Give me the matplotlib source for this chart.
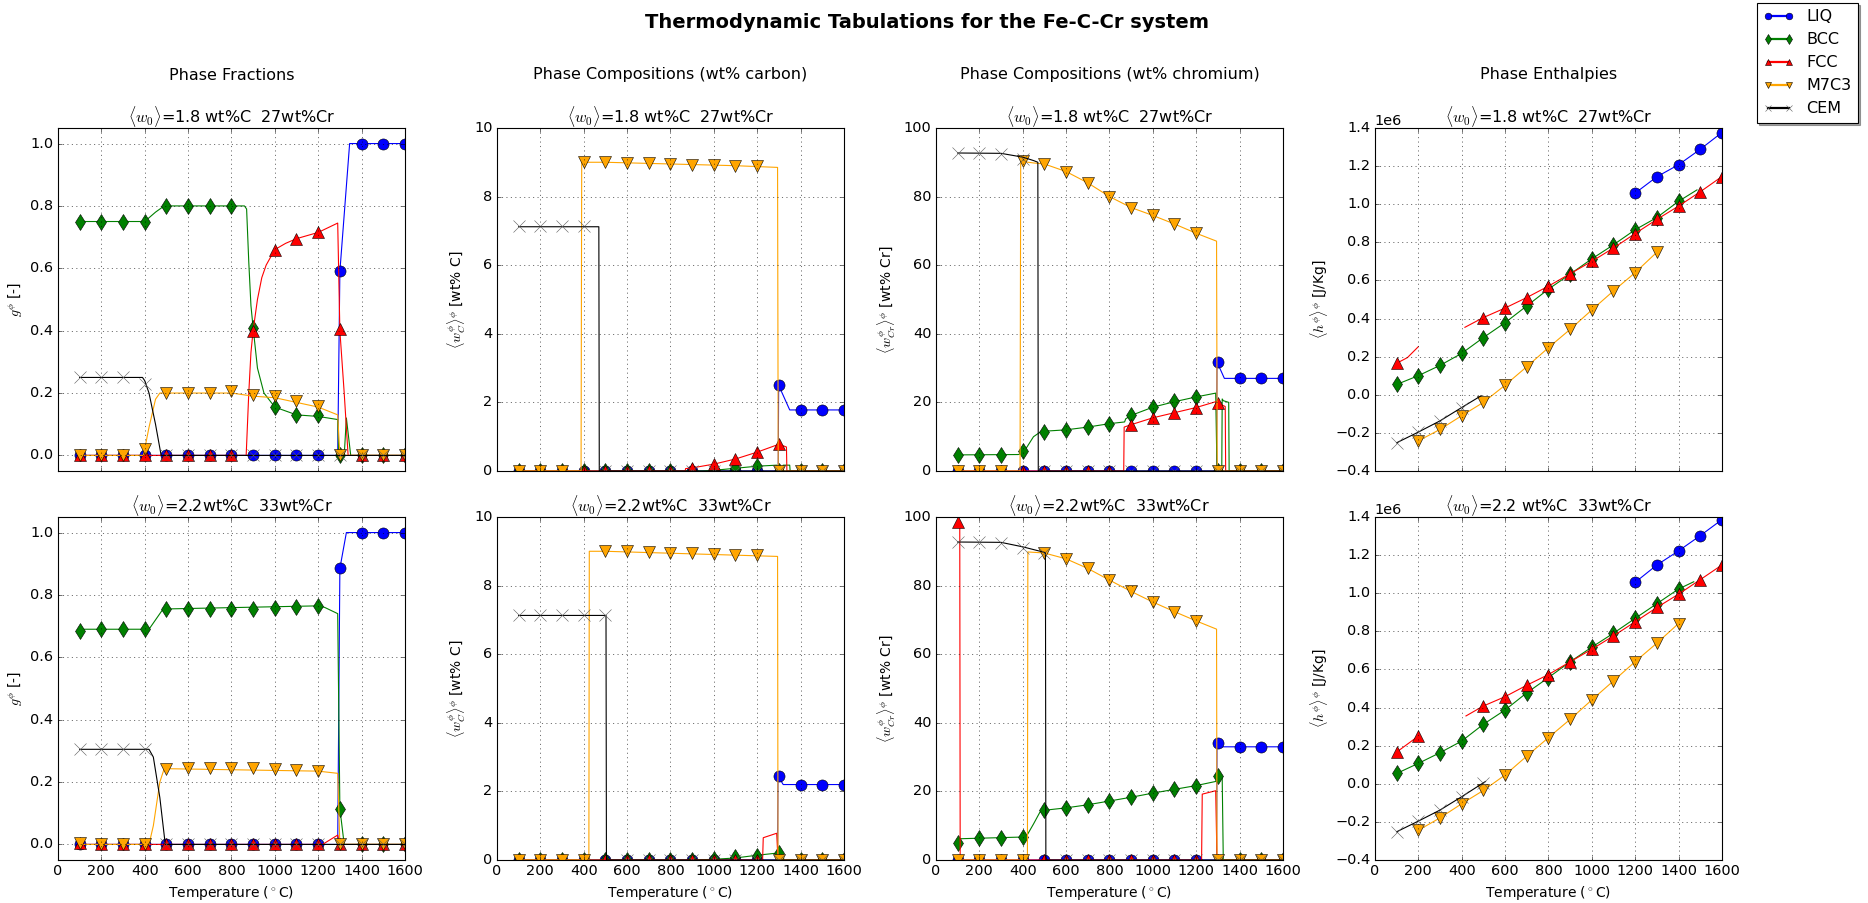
import matplotlib
matplotlib.use('Agg')
import matplotlib.pyplot as plt
import numpy as np
from matplotlib.lines import Line2D

N = np.nan

# temperatures where the markers sit
T_marks = [100, 200, 300, 400, 500, 600, 700, 800, 900, 1000, 1100, 1200, 1300, 1400, 1500, 1600]

phases = ['LIQ', 'BCC', 'FCC', 'M7C3', 'CEM']
colors = {'LIQ': 'b', 'BCC': 'g', 'FCC': 'r', 'M7C3': 'orange', 'CEM': 'k'}
symbols = {'LIQ': 'o', 'BCC': 'd', 'FCC': '^', 'M7C3': 'v', 'CEM': 'x'}

# ---------------- Phase fractions, 1.8 wt%C 27 wt%Cr ----------------
fracA_marks = {
    'LIQ': [0, 0, 0, 0, 0, 0, 0, 0, 0, 0, 0, 0, 0.59, 1.0, 1.0, 1.0],
    'BCC': [0.75, 0.75, 0.75, 0.75, 0.80, 0.80, 0.80, 0.80, 0.41, 0.155, 0.13, 0.13, 0, 0, 0, 0],
    'FCC': [0, 0, 0, 0, 0, 0, 0, 0, 0.40, 0.66, 0.695, 0.715, 0.405, 0, 0, 0],
    'M7C3': [0, 0, 0, 0.02, 0.20, 0.20, 0.20, 0.205, 0.195, 0.19, 0.175, 0.16, 0, 0, 0, 0],
    'CEM': [0.25, 0.25, 0.25, 0.23, 0, 0, 0, 0, 0, 0, 0, 0, 0, 0, 0, 0],
}
fracA_lines = {
    'LIQ': ([100, 1290, 1300, 1345, 1600], [0, 0, 0.59, 1.0, 1.0]),
    'BCC': ([100, 400, 450, 490, 860, 870, 880, 890, 900, 920, 950, 1000, 1100, 1200, 1290, 1295, 1320, 1330, 1350, 1600],
            [0.75, 0.75, 0.78, 0.80, 0.80, 0.79, 0.62, 0.48, 0.41, 0.28, 0.20, 0.155, 0.13, 0.125, 0.115, 0, 0, 0.12, 0, 0]),
    'FCC': ([100, 868, 880, 890, 900, 920, 940, 960, 1000, 1050, 1100, 1200, 1290, 1300, 1320, 1338, 1600],
            [0, 0, 0.2, 0.33, 0.40, 0.50, 0.57, 0.61, 0.66, 0.68, 0.695, 0.715, 0.745, 0.40, 0.2, 0, 0]),
    'M7C3': ([100, 395, 400, 420, 450, 470, 800, 900, 1000, 1100, 1200, 1290, 1300, 1600],
             [0, 0, 0.02, 0.09, 0.18, 0.20, 0.20, 0.19, 0.185, 0.17, 0.155, 0.13, 0, 0]),
    'CEM': ([100, 390, 400, 420, 450, 476, 1600], [0.25, 0.25, 0.24, 0.20, 0.10, 0, 0]),
}

# ---------------- Phase fractions, 2.2 wt%C 33 wt%Cr ----------------
fracB_marks = {
    'LIQ': [0, 0, 0, 0, 0, 0, 0, 0, 0, 0, 0, 0, 0.885, 1.0, 1.0, 1.0],
    'BCC': [0.683, 0.69, 0.69, 0.69, 0.755, 0.755, 0.755, 0.755, 0.755, 0.757, 0.76, 0.765, 0.115, 0, 0, 0],
    'FCC': [0.005, 0, 0, 0, 0, 0, 0, 0, 0, 0, 0, 0, 0, 0, 0, 0],
    'M7C3': [0.005, 0, 0, 0, 0.243, 0.245, 0.246, 0.246, 0.245, 0.243, 0.24, 0.235, 0, 0, 0, 0],
    'CEM': [0.305, 0.305, 0.305, 0.305, 0, 0, 0, 0, 0, 0, 0, 0, 0, 0, 0, 0],
}
fracB_lines = {
    'LIQ': ([100, 1290, 1300, 1330, 1600], [0, 0, 0.885, 1.0, 1.0]),
    'BCC': ([100, 420, 450, 480, 495, 1200, 1230, 1290, 1300, 1320, 1600],
            [0.69, 0.69, 0.72, 0.75, 0.755, 0.765, 0.76, 0.74, 0.115, 0, 0]),
    'FCC': ([100, 1220, 1290, 1300, 1600], [0, 0, 0.03, 0, 0]),
    'M7C3': ([100, 420, 440, 470, 490, 1200, 1290, 1300, 1600], [0, 0, 0.06, 0.20, 0.243, 0.235, 0.228, 0, 0]),
    'CEM': ([100, 420, 440, 470, 495, 1600], [0.305, 0.305, 0.28, 0.15, 0, 0]),
}

# ---------------- Carbon content, alloy 1 ----------------
carbA_marks = {
    'LIQ': [0, 0, 0, 0, 0, 0, 0, 0, 0, 0, 0, 0, 2.5, 1.78, 1.78, 1.78],
    'BCC': [0, 0, 0, 0, 0, 0, 0, 0, 0, 0.02, 0.08, 0.15, 0, 0, 0, 0],
    'FCC': [0, 0, 0, 0, 0, 0, 0, 0, 0.08, 0.2, 0.35, 0.55, 0.78, 0, 0, 0],
    'M7C3': [0, 0, 0, 9.02, 9.02, 8.99, 8.97, 8.95, 8.93, 8.92, 8.9, 8.88, 0, 0, 0, 0],
    'CEM': [7.13, 7.13, 7.13, 7.13, 0, 0, 0, 0, 0, 0, 0, 0, 0, 0, 0, 0],
}
carbA_lines = {
    'LIQ': ([100, 1297, 1299, 1350, 1600], [0, 0, 2.5, 1.78, 1.78]),
    'BCC': ([100, 950, 1000, 1100, 1200, 1290, 1296, 1318, 1320, 1350, 1352, 1600],
            [0, 0, 0.02, 0.08, 0.14, 0.17, 0, 0, 0.17, 0.17, 0, 0]),
    'FCC': ([100, 868, 870, 900, 1000, 1100, 1200, 1300, 1335, 1337, 1600],
            [0, 0, 0.07, 0.09, 0.2, 0.35, 0.55, 0.78, 0.7, 0, 0]),
    'M7C3': ([100, 388, 391, 500, 800, 1100, 1294, 1297, 1600], [0, 0, 9.0, 9.0, 8.95, 8.9, 8.85, 0, 0]),
    'CEM': ([100, 470, 472, 1600], [7.12, 7.12, 0, 0]),
}

# ---------------- Carbon content, alloy 2 ----------------
carbB_marks = {
    'LIQ': [0, 0, 0, 0, 0, 0, 0, 0, 0, 0, 0, 0, 2.45, 2.2, 2.2, 2.2],
    'BCC': [0, 0, 0, 0, 0, 0, 0, 0, 0, 0.03, 0.08, 0.13, 0.2, 0, 0, 0],
    'FCC': [0, 0, 0, 0, 0, 0, 0, 0, 0, 0, 0, 0, 0, 0, 0, 0],
    'M7C3': [0, 0, 0, 0, 9.02, 9.0, 8.97, 8.95, 8.94, 8.92, 8.9, 8.88, 0, 0, 0, 0],
    'CEM': [7.13, 7.13, 7.13, 7.13, 7.13, 0, 0, 0, 0, 0, 0, 0, 0, 0, 0, 0],
}
carbB_lines = {
    'LIQ': ([100, 1294, 1296, 1320, 1600], [0, 0, 2.45, 2.2, 2.2]),
    'BCC': ([100, 900, 1000, 1100, 1200, 1290, 1310, 1325, 1600], [0, 0, 0.02, 0.06, 0.14, 0.2, 0.2, 0, 0]),
    'FCC': ([100, 1225, 1228, 1290, 1296, 1600], [0, 0, 0.65, 0.78, 0, 0]),
    'M7C3': ([100, 424, 426, 500, 1294, 1296, 1600], [0, 0, 9.0, 9.0, 8.85, 0, 0]),
    'CEM': ([100, 503, 505, 1600], [7.13, 7.13, 0, 0]),
}

# ---------------- Chromium content, alloy 1 ----------------
chrA_marks = {
    'LIQ': [0, 0, 0, 0, 0, 0, 0, 0, 0, 0, 0, 0, 31.8, 27, 27, 27],
    'BCC': [4.7, 4.7, 4.7, 5.8, 11.5, 11.9, 12.7, 13.7, 16.2, 18.8, 20.3, 21.7, 0, 0, 0, 0],
    'FCC': [0, 0, 0, 0, 0, 0, 0, 0, 13.5, 15.5, 17.0, 18.5, 19.8, 0, 0, 0],
    'M7C3': [0, 0, 0, 90.3, 89.5, 87.3, 84.0, 80.0, 76.8, 74.5, 72.0, 69.3, 0, 0, 0, 0],
    'CEM': [92.7, 92.7, 92.5, 91.0, 0, 0, 0, 0, 0, 0, 0, 0, 0, 0, 0, 0],
}
chrA_lines = {
    'LIQ': ([100, 1294, 1296, 1330, 1600], [0, 0, 31.8, 27, 27]),
    'BCC': ([100, 380, 400, 420, 450, 480, 500, 600, 700, 800, 870, 875, 900, 1000, 1100, 1200, 1290, 1296,
             1318, 1320, 1325, 1350, 1352, 1600],
            [4.7, 4.8, 5.2, 7, 10, 11.3, 11.6, 12, 12.8, 13.8, 14.3, 15.2, 16.2, 18.6, 20.2, 21.6, 22.7, 0,
             0, 21, 20.5, 20, 0, 0]),
    'FCC': ([100, 866, 868, 900, 1000, 1100, 1200, 1290, 1300, 1334, 1336, 1600],
            [0, 0, 12.8, 13.5, 15.5, 17, 18.5, 20.2, 19.8, 18.8, 0, 0]),
    'M7C3': ([100, 388, 391, 450, 500, 600, 700, 800, 900, 1000, 1100, 1200, 1294, 1297, 1600],
             [0, 0, 90.3, 89.8, 89.5, 87.3, 84, 80, 76.8, 74.5, 72, 69.3, 67, 0, 0]),
    'CEM': ([100, 300, 400, 450, 470, 472, 1600], [92.7, 92.6, 91.5, 90.5, 90, 0, 0]),
}

# ---------------- Chromium content, alloy 2 ----------------
chrB_marks = {
    'LIQ': [0, 0, 0, 0, 0, 0, 0, 0, 0, 0, 0, 0, 34.2, 33, 33, 33],
    'BCC': [5.0, 6.3, 6.5, 6.8, 14.5, 15.2, 16.1, 17.2, 18.3, 19.5, 20.6, 21.7, 24.5, 0, 0, 0],
    'FCC': [98.5, 0, 0, 0, 0, 0, 0, 0, 0, 0, 0, 0, 0, 0, 0, 0],
    'M7C3': [0, 0, 0, 0, 89.5, 87.8, 85.0, 81.6, 78.3, 75.2, 72.4, 69.7, 0, 0, 0, 0],
    'CEM': [92.7, 92.7, 92.5, 91.0, 89.5, 0, 0, 0, 0, 0, 0, 0, 0, 0, 0, 0],
}
chrB_lines = {
    'LIQ': ([100, 1294, 1296, 1320, 1600], [0, 0, 34.2, 33, 33]),
    'BCC': ([100, 110, 400, 420, 450, 480, 500, 600, 700, 800, 900, 1000, 1100, 1200, 1290, 1300, 1320, 1325, 1600],
            [5.0, 6.2, 6.7, 7.2, 10.5, 14, 14.5, 15.2, 16.1, 17.2, 18.3, 19.5, 20.6, 21.7, 22.9, 24.5, 24, 0, 0]),
    'FCC': ([100, 110, 112, 1225, 1228, 1290, 1296, 1600], [98.5, 98, 0, 0, 19.2, 20.2, 0, 0]),
    'M7C3': ([100, 422, 424, 500, 600, 700, 800, 900, 1000, 1100, 1200, 1294, 1296, 1600],
             [0, 0, 89.8, 89.5, 87.8, 85, 81.6, 78.3, 75.2, 72.4, 69.7, 67.3, 0, 0]),
    'CEM': ([100, 300, 400, 450, 505, 507, 1600], [92.7, 92.6, 91.3, 90.5, 89.6, 0, 0]),
}

# ---------------- Enthalpy (x 1e6 J/Kg), alloy 1 ----------------
enthA_marks = {
    'LIQ': [N, N, N, N, N, N, N, N, N, N, N, 1.058, 1.144, 1.207, 1.288, 1.376],
    'BCC': [0.054, 0.10, 0.154, 0.217, 0.30, 0.378, 0.466, 0.554, 0.633, 0.713, 0.787, 0.866, 0.93, 1.015, N, N],
    'FCC': [0.165, N, N, N, 0.405, 0.455, 0.51, 0.57, 0.635, 0.70, 0.77, 0.846, 0.92, 0.99, 1.065, 1.145],
    'M7C3': [N, -0.242, -0.182, -0.11, -0.04, 0.05, 0.147, 0.247, 0.343, 0.445, 0.545, 0.641, 0.748, N, N, N],
    'CEM': [-0.252, -0.196, -0.137, -0.067, N, N, N, N, N, N, N, N, N, N, N, N],
}
enthA_lines = {
    'LIQ': ([1185, 1200, 1300, 1400, 1500, 1600], [1.04, 1.058, 1.144, 1.207, 1.288, 1.376]),
    'BCC': ([100, 200, 300, 400, 500, 600, 700, 800, 900, 1000, 1100, 1200, 1300, 1400, 1485],
            [0.054, 0.10, 0.154, 0.217, 0.30, 0.378, 0.466, 0.554, 0.633, 0.713, 0.787, 0.866, 0.93, 1.015, 1.075]),
    'FCC': ([100, 150, 200, 300, 415, 500, 600, 700, 800, 900, 1000, 1100, 1200, 1300, 1400, 1500, 1600],
            [0.165, 0.195, 0.252, N, 0.354, 0.405, 0.455, 0.51, 0.57, 0.635, 0.70, 0.77, 0.846, 0.92, 0.99, 1.065, 1.145]),
    'M7C3': ([200, 300, 400, 500, 600, 700, 800, 900, 1000, 1100, 1200, 1300],
             [-0.242, -0.182, -0.11, -0.04, 0.05, 0.147, 0.247, 0.343, 0.445, 0.545, 0.641, 0.748]),
    'CEM': ([100, 200, 300, 400, 490], [-0.252, -0.196, -0.137, -0.067, -0.005]),
}

# ---------------- Enthalpy (x 1e6 J/Kg), alloy 2 ----------------
enthB_marks = {
    'LIQ': [N, N, N, N, N, N, N, N, N, N, N, 1.057, 1.148, 1.222, 1.302, 1.386],
    'BCC': [0.054, 0.107, 0.163, 0.224, 0.312, 0.387, 0.477, 0.557, 0.64, 0.717, 0.79, 0.868, 0.945, 1.022, N, N],
    'FCC': [0.166, 0.25, N, N, 0.408, 0.457, 0.517, 0.573, 0.64, 0.706, 0.776, 0.85, 0.925, 0.995, 1.071, 1.148],
    'M7C3': [N, -0.244, -0.179, -0.105, -0.035, 0.046, 0.145, 0.242, 0.338, 0.44, 0.54, 0.641, 0.738, 0.841, N, N],
    'CEM': [-0.252, -0.196, -0.138, -0.068, 0.005, N, N, N, N, N, N, N, N, N, N, N],
}
enthB_lines = {
    'LIQ': ([1190, 1200, 1300, 1400, 1500, 1600], [1.045, 1.057, 1.148, 1.222, 1.302, 1.386]),
    'BCC': ([100, 200, 300, 400, 500, 600, 700, 800, 900, 1000, 1100, 1200, 1300, 1400, 1470],
            [0.054, 0.107, 0.163, 0.224, 0.312, 0.387, 0.477, 0.557, 0.64, 0.717, 0.79, 0.868, 0.945, 1.022, 1.06]),
    'FCC': ([100, 200, 300, 420, 500, 600, 700, 800, 900, 1000, 1100, 1200, 1300, 1400, 1500, 1600],
            [0.166, 0.25, N, 0.356, 0.408, 0.457, 0.517, 0.573, 0.64, 0.706, 0.776, 0.85, 0.925, 0.995, 1.071, 1.148]),
    'M7C3': ([200, 300, 400, 500, 600, 700, 800, 900, 1000, 1100, 1200, 1300, 1400, 1430],
             [-0.244, -0.179, -0.105, -0.035, 0.046, 0.145, 0.242, 0.338, 0.44, 0.54, 0.641, 0.738, 0.841, 0.864]),
    'CEM': ([100, 200, 300, 400, 500, 510], [-0.252, -0.196, -0.138, -0.068, 0.005, 0.012]),
}

col_titles = ['Phase Fractions', 'Phase Compositions (wt% carbon)',
              'Phase Compositions (wt% chromium)', 'Phase Enthalpies']
ylabels = [r'$g^\phi$ [-]', r'$\langle w_C^\phi \rangle^\phi$ [wt% C]',
           r'$\langle w_{Cr}^\phi \rangle^\phi$ [wt% Cr]', r'$\langle h^\phi \rangle^\phi$ [J/Kg]']
titles_top = [r'$\langle w_0 \rangle$=1.8 wt%C  27wt%Cr'] * 4
titles_bot = [r'$\langle w_0 \rangle$=2.2wt%C  33wt%Cr'] * 3 + [r'$\langle w_0 \rangle$=2.2 wt%C  33wt%Cr']
ylims = [(-0.05, 1.05), (0, 10), (0, 100), (-0.4e6, 1.4e6)]
yticks = [[0.0, 0.2, 0.4, 0.6, 0.8, 1.0], [0, 2, 4, 6, 8, 10], [0, 20, 40, 60, 80, 100],
          [-0.4e6, -0.2e6, 0, 0.2e6, 0.4e6, 0.6e6, 0.8e6, 1.0e6, 1.2e6, 1.4e6]]
scales = [1, 1, 1, 1e6]

panels = [[(fracA_marks, fracA_lines), (carbA_marks, carbA_lines), (chrA_marks, chrA_lines), (enthA_marks, enthA_lines)],
          [(fracB_marks, fracB_lines), (carbB_marks, carbB_lines), (chrB_marks, chrB_lines), (enthB_marks, enthB_lines)]]

plt.style.use('classic')
plt.rcParams['xtick.labelsize'] = 13
plt.rcParams['ytick.labelsize'] = 13
plt.rcParams['axes.labelsize'] = 12.5
fig, axes = plt.subplots(2, 4, figsize=(1868 / 80, 903 / 80), dpi=80, facecolor='white')
plt.subplots_adjust(left=0.031, right=0.9218, bottom=0.0476, top=0.8583, wspace=0.265, hspace=0.134)

for r in range(2):
    for c in range(4):
        ax = axes[r, c]
        marks, lines = panels[r][c]
        s = scales[c]
        for ph in phases:
            lt, ly = lines[ph]
            ax.plot(lt, np.array(ly) * s, '-', color=colors[ph], lw=1.0)
            ax.plot(T_marks, np.array(marks[ph]) * s, linestyle='none', marker=symbols[ph],
                    color=colors[ph], markersize=10, markeredgewidth=0.5,
                    markeredgecolor='k' if ph != 'CEM' else '0.35')
        ax.set_xlim(0, 1600)
        ax.set_xticks([0, 200, 400, 600, 800, 1000, 1200, 1400, 1600])
        ax.set_ylim(*ylims[c])
        ax.set_yticks(yticks[c])
        if c == 3:
            ax.ticklabel_format(axis='y', style='sci', scilimits=(0, 0), useMathText=False)
        ax.grid(True)
        ax.set_ylabel(ylabels[c])
        ax.set_title(titles_top[c] if r == 0 else titles_bot[c], fontsize=14.4)
        if r == 0:
            ax.tick_params(labelbottom=False)
        else:
            ax.set_xlabel(r'Temperature ($^\circ$C)')

# column headers
for c in range(4):
    pos = axes[0, c].get_position()
    fig.text((pos.x0 + pos.x1) / 2, 1 - 75 / 903, col_titles[c], ha='center', va='center', fontsize=14.4)

fig.suptitle('Thermodynamic Tabulations for the Fe-C-Cr system', fontsize=17.5, fontweight='bold',
             x=0.496, y=1 - 22 / 903, va='center')

# legend
handles = [Line2D([], [], color=colors[ph], marker=symbols[ph], markersize=6, lw=2,
                  markeredgecolor='k' if ph != 'CEM' else '0.35', markeredgewidth=0.5) for ph in phases]
fig.legend(handles, phases, loc='upper right', bbox_to_anchor=(1858 / 1868, 1 - 3 / 903),
           borderaxespad=0, numpoints=2, fontsize=14.4, handlelength=1.9, shadow=True, fancybox=False)

fig.savefig('out.png', dpi=80, facecolor='white')
